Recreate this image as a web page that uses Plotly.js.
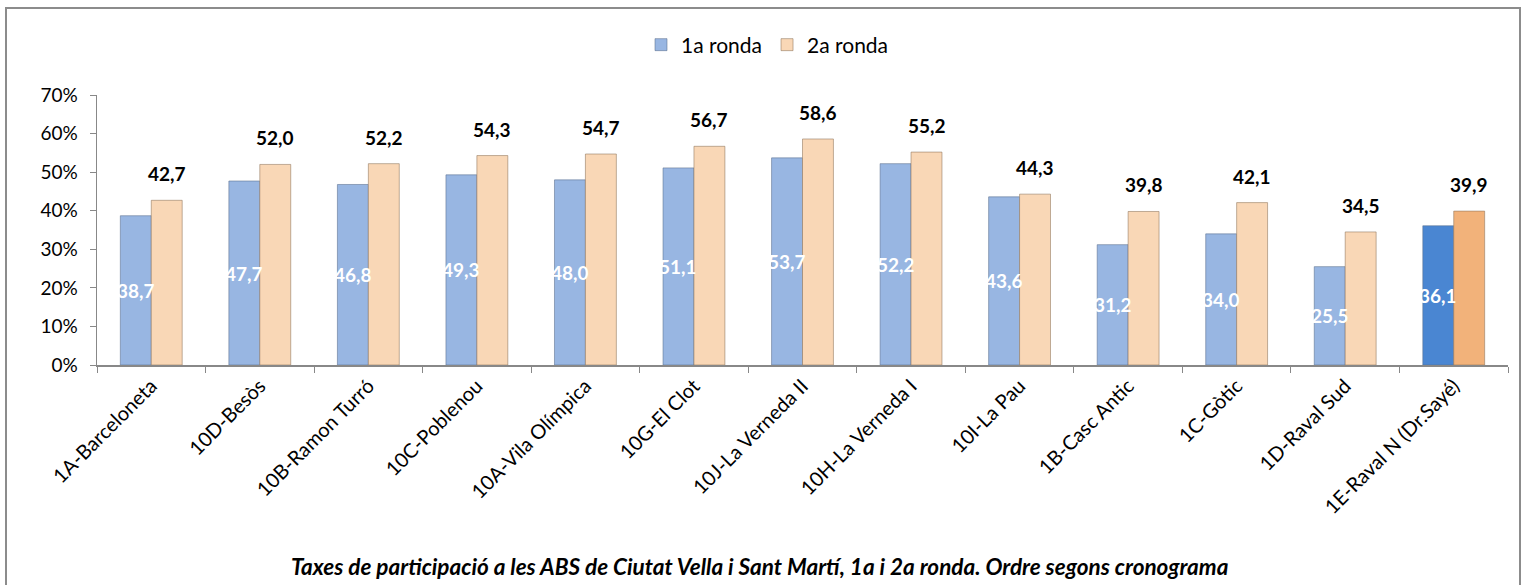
<!DOCTYPE html>
<html><head><meta charset="utf-8">
<script src="https://cdn.plot.ly/plotly-3.0.1.min.js"></script>
<style>html,body{margin:0;padding:0;background:#fff;}#chart{width:1524px;height:585px;}</style>
</head><body><div id="chart"></div>
<script>
const categories = ["1A-Barceloneta","10D-Besòs","10B-Ramon Turró","10C-Poblenou","10A-Vila Olímpica","10G-El Clot","10J-La Verneda II","10H-La Verneda I","10I-La Pau","1B-Casc Antic","1C-Gòtic","1D-Raval Sud","1E-Raval N (Dr.Sayé)"];
const ronda1 = [38.7,47.7,46.8,49.3,48.0,51.1,53.7,52.2,43.6,31.2,34.0,25.5,36.1];
const ronda2 = [42.7,52.0,52.2,54.3,54.7,56.7,58.6,55.2,44.3,39.8,42.1,34.5,39.9];
const seriesNames = ["1a ronda","2a ronda"];
const yTicks = [0,10,20,30,40,50,60,70];
const titleText = "Taxes de participació a les ABS de Ciutat Vella i Sant Martí, 1a i 2a ronda. Ordre segons cronograma";

const FONT = "Lato, Carlito, Calibri, sans-serif";
const n = categories.length;
const blueCols = categories.map((c,i)=> i===n-1 ? "#4a86d2" : "#98b6e2");
const orangeCols = categories.map((c,i)=> i===n-1 ? "#f2b27a" : "#f9d7b6");
const fmt = v => v.toFixed(1).replace(".",",");

const t1 = {
  type:"bar", name:seriesNames[0], x:categories, y:ronda1,
  marker:{color:blueCols, line:{color:"rgba(90,110,140,0.55)", width:1}},
  hoverinfo:"x+y"
};
const t2 = {
  type:"bar", name:seriesNames[1], x:categories, y:ronda2,
  marker:{color:orangeCols, line:{color:"rgba(140,115,90,0.55)", width:1}},
  hoverinfo:"x+y"
};

const annotations = [];
categories.forEach((c,i)=>{
  annotations.push({
    x:c, y:ronda1[i]/2, xref:"x", yref:"y", xshift:-15.5, yshift:0,
    yanchor:"middle", xanchor:"center", showarrow:false,
    text:"<b>"+fmt(ronda1[i])+"</b>",
    font:{family:FONT, size:19, color:"#ffffff"}
  });
  annotations.push({
    x:c, y:ronda2[i], xref:"x", yref:"y", xshift:15.5, yshift:13,
    yanchor:"bottom", xanchor:"center", showarrow:false,
    text:"<b>"+fmt(ronda2[i])+"</b>",
    font:{family:FONT, size:19, color:"#000"}
  });
});
annotations.push({
  xref:"paper", yref:"paper", x:(759-97)/1411, y:(365-566)/270,
  xanchor:"center", yanchor:"middle", showarrow:false,
  text:"<b><i>"+titleText+"</i></b>", font:{family:FONT, size:22.5, color:"#000"}
});

const layout = {
  width:1524, height:585,
  margin:{l:97, r:16, t:95, b:220},
  paper_bgcolor:"#fff", plot_bgcolor:"#fff",
  separators:",.",
  barmode:"group", bargap:0.43, bargroupgap:0,
  font:{family:FONT, size:16, color:"#000"},
  showlegend:true,
  legend:{orientation:"h", x:(641-97)/1411, xanchor:"left", y:(365-45)/270, yanchor:"middle",
          font:{family:FONT, size:21, color:"#000"}, itemwidth:30, tracegroupgap:0},
  xaxis:{type:"category", tickangle:-45, tickson:"boundaries", ticks:"outside", ticklen:6,
         tickcolor:"#888", showline:true, linecolor:"#888", linewidth:1.5, showgrid:false,
         tickfont:{family:FONT, size:20, color:"#000"}, fixedrange:true},
  yaxis:{range:[0,70], tickvals:yTicks, ticktext:yTicks.map(v=>v+"%"), ticks:"outside", ticklen:6,
         tickcolor:"#888", showline:true, linecolor:"#888", linewidth:1.5, showgrid:false, zeroline:false,
         ticklabelstandoff:8,
         tickfont:{family:FONT, size:19, color:"#000"}, fixedrange:true},
  annotations:annotations,
  shapes:[{type:"rect", xref:"paper", yref:"paper",
    x0:(6-97)/1411, x1:(1520-97)/1411, y0:(365-640)/270, y1:(365-8)/270,
    line:{color:"#8c8c8c", width:2}, fillcolor:"rgba(0,0,0,0)", layer:"below"}]
};
Plotly.newPlot("chart",[t1,t2],layout,{displayModeBar:false, staticPlot:true});
</script></body></html>
